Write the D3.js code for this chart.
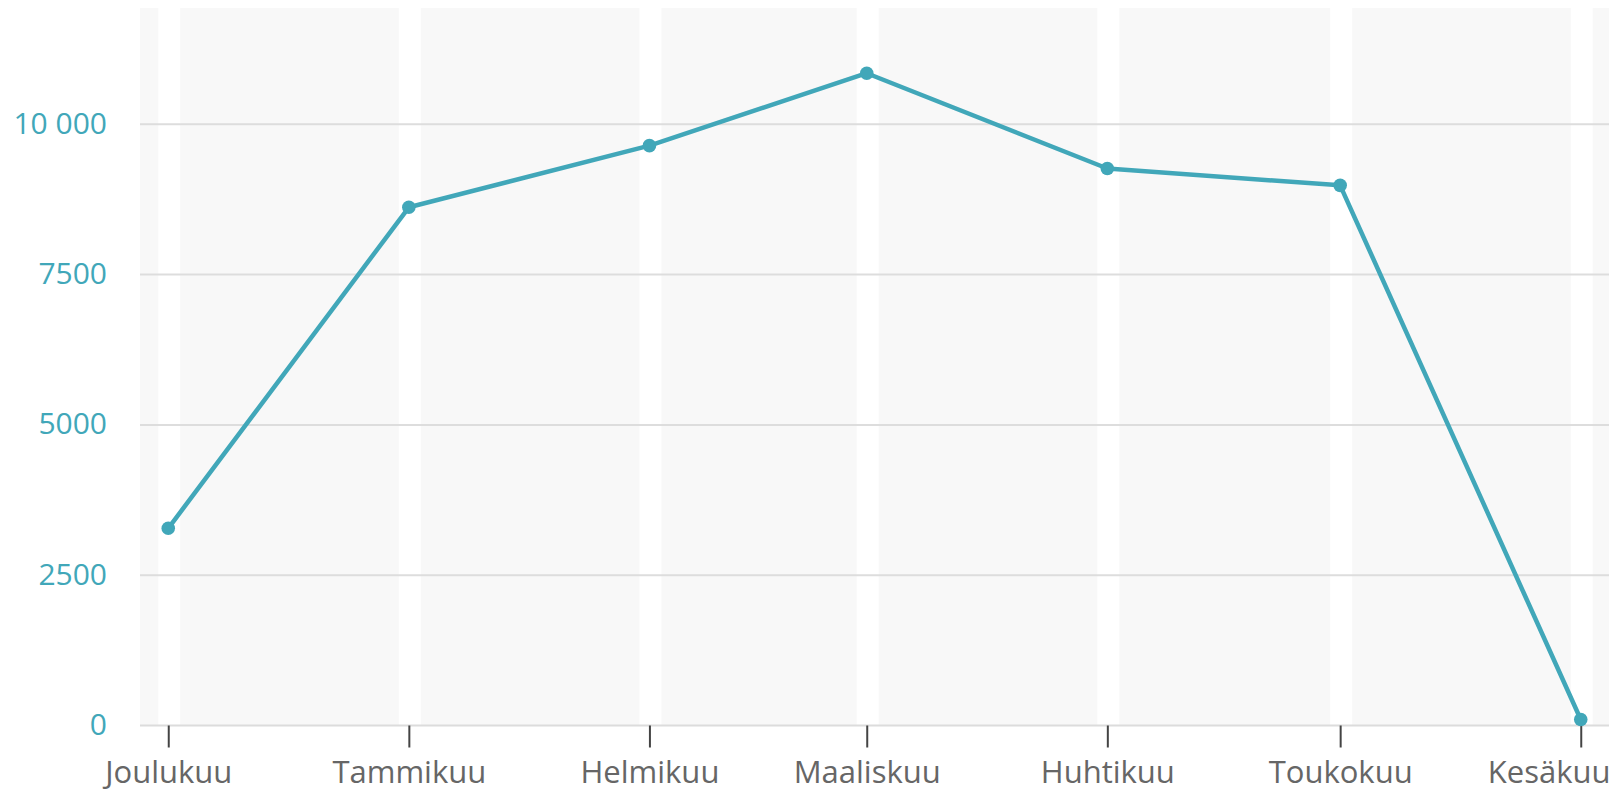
<!DOCTYPE html>
<html>
<head>
<meta charset="utf-8">
<script src="https://cdn.jsdelivr.net/npm/d3@7"></script>
<style>
  html, body { margin: 0; padding: 0; background: #ffffff; }
  svg { display: block; }
  text { font-family: "Open Sans", "Noto Sans", sans-serif; }
</style>
</head>
<body>
<svg id="chart" width="1614" height="790"></svg>
<script>
// Kuukausittaiset arvot
const months = ["Joulukuu", "Tammikuu", "Helmikuu", "Maaliskuu", "Huhtikuu", "Toukokuu", "Kesäkuu"];
const monthStarts = ["2022-12-01", "2023-01-01", "2023-02-01", "2023-03-01", "2023-04-01", "2023-05-01", "2023-06-01"];
const values = [3280, 8620, 9645, 10850, 9265, 8985, 100];
const yTicks = [0, 2500, 5000, 7500, 10000];
const yTickLabels = ["0", "2500", "5000", "7500", "10 000"];

const W = 1614, H = 790;
const margin = { left: 140, right: 5, top: 8, bottom: 64 };

const parse = d3.utcParse("%Y-%m-%d");
const dates = monthStarts.map(parse);
const points = dates.map((d, i) => ({ date: d, value: values[i], label: months[i] }));

const svg = d3.select("#chart");

// Time axis with 2 % padding on both ends
const [t0, t1] = d3.extent(dates);
const span = t1 - t0;
const x = d3.scaleUtc()
  .domain([new Date(+t0 - span * 0.02), new Date(+t1 + span * 0.02)])
  .range([margin.left, W - margin.right]);

const y = d3.scaleLinear()
  .domain([0, d3.max(values) * 1.1])
  .range([H - margin.bottom - 0.5, margin.top]);

const x0 = x.range()[0], x1 = x.range()[1];
const y0 = y.range()[0], y1 = y.range()[1];

// Alternating background bands between the month ticks
const gapL = 10, gapR = 12;
const edges = [x0, ...dates.map(d => x(d)), x1];
const bands = [];
for (let i = 0; i < edges.length - 1; i++) {
  const a = i === 0 ? edges[i] : edges[i] + gapR;
  const b = i === edges.length - 2 ? edges[i + 1] : edges[i + 1] - gapL;
  if (b > a) bands.push([a, b]);
}
svg.append("g")
  .selectAll("rect")
  .data(bands)
  .join("rect")
  .attr("x", d => d[0])
  .attr("y", y1)
  .attr("width", d => d[1] - d[0])
  .attr("height", y0 - y1)
  .attr("fill", "#f8f8f8");

// Horizontal grid lines
svg.append("g")
  .selectAll("line")
  .data(yTicks.filter(v => v > 0))
  .join("line")
  .attr("x1", x0).attr("x2", x1)
  .attr("y1", d => y(d)).attr("y2", d => y(d))
  .attr("stroke", "#dddddd")
  .attr("stroke-width", 2);

// Bottom axis line
svg.append("line")
  .attr("x1", x0).attr("x2", x1)
  .attr("y1", y(0)).attr("y2", y(0))
  .attr("stroke", "#dcdcdc")
  .attr("stroke-width", 2);

// X axis: ticks and month names
const xAxis = d3.axisBottom(x)
  .tickValues(dates)
  .tickSize(22)
  .tickPadding(14)
  .tickFormat((d, i) => months[i]);

const gx = svg.append("g")
  .attr("transform", `translate(0,${y(0)})`)
  .call(xAxis);
gx.select(".domain").remove();
gx.selectAll(".tick line").attr("stroke", "#444444").attr("stroke-width", 2);
gx.selectAll(".tick text")
  .attr("fill", "#666666")
  .attr("font-size", 31)
  .attr("dy", 0)
  .attr("y", 57);

// Keep the outermost month names inside the drawing area
gx.selectAll(".tick").each(function(d) {
  const t = d3.select(this).select("text");
  const bb = t.node().getBBox();
  const cx = x(d);
  const right = cx + bb.x + bb.width;
  if (right > W - 4) t.attr("x", (W - 4) - right);
  const left = cx + bb.x;
  if (left < 2) t.attr("x", 2 - left);
});

// Y axis labels
const gy = svg.append("g")
  .attr("transform", `translate(${x0},0)`)
  .call(d3.axisLeft(y).tickValues(yTicks).tickSize(0).tickPadding(33)
    .tickFormat((d, i) => yTickLabels[i]));
gy.select(".domain").remove();
gy.selectAll(".tick text")
  .attr("fill", "#41a7b9")
  .attr("font-size", 30)
  .attr("dy", 0)
  .attr("y", 9);

// Data line and points
const line = d3.line().x(d => x(d.date)).y(d => y(d.value));
svg.append("path")
  .datum(points)
  .attr("d", line)
  .attr("fill", "none")
  .attr("stroke", "#41a7b9")
  .attr("stroke-width", 4.5)
  .attr("stroke-linejoin", "round");

svg.append("g")
  .selectAll("circle")
  .data(points)
  .join("circle")
  .attr("cx", d => x(d.date))
  .attr("cy", d => y(d.value))
  .attr("r", 6.8)
  .attr("fill", "#41a7b9");
</script>
</body>
</html>
